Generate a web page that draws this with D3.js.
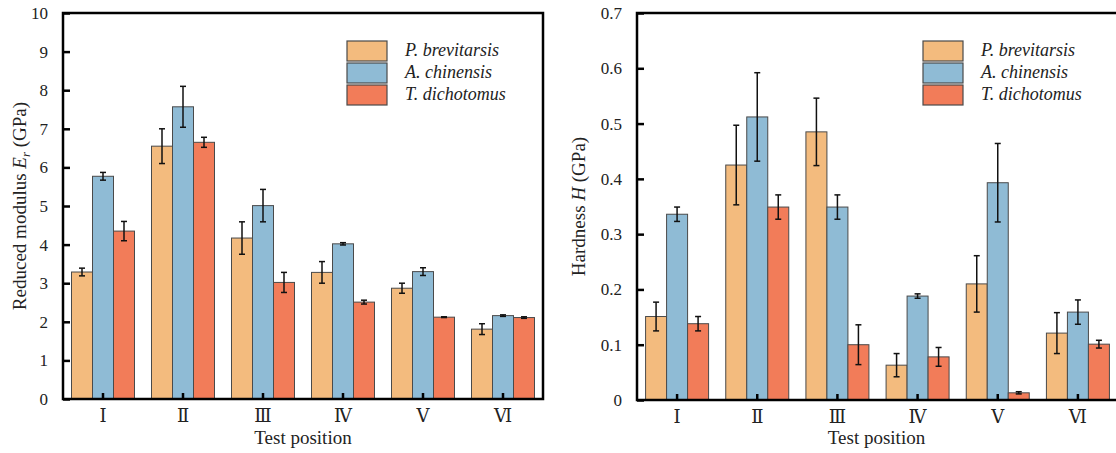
<!DOCTYPE html>
<html>
<head>
<meta charset="utf-8">
<script src="https://cdn.jsdelivr.net/npm/d3@7"></script>
<style>
  body { margin: 0; background: #fff; }
  svg { display: block; font-family: "Liberation Serif", "Times New Roman", serif; }
</style>
</head>
<body>
<svg></svg>
<script>
const width = 1116, height = 453
const positions = ["Ⅰ", "Ⅱ", "Ⅲ", "Ⅳ", "Ⅴ", "Ⅵ"]
const species = ["P. brevitarsis", "A. chinensis", "T. dichotomus"]
const colors = ["#F3BB7E", "#8FBBD5", "#F27C59"]

// reduced modulus (GPa)
const modulusMean = [
    [3.29, 6.55, 4.17, 3.28, 2.87, 1.81],
    [5.77, 7.57, 5.01, 4.02, 3.30, 2.16],
    [4.35, 6.65, 3.02, 2.51, 2.12, 2.11]
]
const modulusErr = [
    [0.10, 0.45, 0.42, 0.28, 0.13, 0.14],
    [0.10, 0.53, 0.42, 0.03, 0.10, 0.02],
    [0.25, 0.13, 0.26, 0.05, 0.01, 0.02]
]
// hardness (GPa)
const hardMean = [
    [0.151, 0.425, 0.485, 0.063, 0.210, 0.121],
    [0.336, 0.512, 0.349, 0.188, 0.393, 0.159],
    [0.138, 0.349, 0.100, 0.078, 0.013, 0.101]
]
const hardErr = [
    [0.026, 0.072, 0.061, 0.021, 0.051, 0.037],
    [0.013, 0.080, 0.022, 0.004, 0.071, 0.022],
    [0.013, 0.022, 0.036, 0.017, 0.002, 0.007]
]
const modulusTicks = [0, 1, 2, 3, 4, 5, 6, 7, 8, 9, 10]
const hardTicks = [0, 0.1, 0.2, 0.3, 0.4, 0.5, 0.6, 0.7]

var svg = d3.select("svg")
    .attr("width", width)
    .attr("height", height);

function drawPanel(opt) {
    const g = svg.append("g");
    const x = d3.scaleBand().domain(positions).range([opt.left, opt.right]);
    const y = d3.scaleLinear().domain(opt.domain).range([opt.bottom, opt.top]);
    const sub = d3.scaleBand().domain(d3.range(species.length))
        .range([0, 63]);
    const off = (x.bandwidth() - 63) / 2;

    // bars
    species.forEach((s, si) => {
        g.selectAll(null)
            .data(positions)
            .enter()
            .append("rect")
            .attr("x", d => x(d) + off + sub(si))
            .attr("width", sub.bandwidth())
            .attr("y", (d, i) => y(opt.mean[si][i]))
            .attr("height", (d, i) => y(0) - y(opt.mean[si][i]))
            .attr("fill", colors[si])
            .attr("stroke", "#4a4a4a")
            .attr("stroke-width", 1);
    });

    // error bars
    species.forEach((s, si) => {
        const eb = g.selectAll(null)
            .data(positions)
            .enter()
            .append("g")
            .attr("stroke", "#111")
            .attr("stroke-width", 1.5);
        const cx = d => x(d) + off + sub(si) + sub.bandwidth() / 2;
        eb.append("line")
            .attr("x1", cx).attr("x2", cx)
            .attr("y1", (d, i) => y(opt.mean[si][i] + opt.err[si][i]))
            .attr("y2", (d, i) => y(opt.mean[si][i] - opt.err[si][i]));
        eb.append("line")
            .attr("x1", d => cx(d) - 3).attr("x2", d => cx(d) + 3)
            .attr("y1", (d, i) => y(opt.mean[si][i] + opt.err[si][i]))
            .attr("y2", (d, i) => y(opt.mean[si][i] + opt.err[si][i]));
        eb.append("line")
            .attr("x1", d => cx(d) - 3).attr("x2", d => cx(d) + 3)
            .attr("y1", (d, i) => y(opt.mean[si][i] - opt.err[si][i]))
            .attr("y2", (d, i) => y(opt.mean[si][i] - opt.err[si][i]));
    });

    // frame
    g.append("rect")
        .attr("x", opt.left).attr("y", opt.top)
        .attr("width", opt.right - opt.left)
        .attr("height", opt.bottom - opt.top)
        .attr("fill", "none")
        .attr("stroke", "#000")
        .attr("stroke-width", 2.5);

    // y axis
    const yAxis = g.append("g")
        .attr("transform", `translate(${opt.left},0)`)
        .call(d3.axisLeft(y).tickValues(opt.ticks).tickFormat(opt.fmt)
            .tickSizeInner(-7).tickSizeOuter(0).tickPadding(15));
    yAxis.select(".domain").remove();
    yAxis.selectAll(".tick line").attr("stroke-width", 2.5);
    yAxis.selectAll(".tick text")
        .attr("font-size", 17)
        .attr("font-family", "Liberation Serif")
        .attr("fill", "#222");

    // x axis
    const xAxis = g.append("g")
        .attr("transform", `translate(0,${opt.bottom})`)
        .call(d3.axisBottom(x).tickSizeInner(-6).tickSizeOuter(0).tickPadding(10));
    xAxis.select(".domain").remove();
    xAxis.selectAll(".tick line").attr("stroke-width", 2.5);
    xAxis.selectAll(".tick text")
        .attr("font-size", 18)
        .attr("font-family", "'DejaVu Serif', 'Liberation Serif', serif")
        .attr("fill", "#222");

    // axis titles
    g.append("text")
        .attr("x", (opt.left + Math.min(opt.right, width)) / 2 + opt.xTitleShift)
        .attr("y", 444)
        .attr("text-anchor", "middle")
        .attr("font-size", 19)
        .attr("fill", "#222")
        .text("Test position");

    const yt = g.append("text")
        .attr("transform", `translate(${opt.yTitleX},${(opt.top + opt.bottom) / 2}) rotate(-90)`)
        .attr("text-anchor", "middle")
        .attr("font-size", 19)
        .attr("fill", "#222");
    yt.append("tspan").text(opt.yTitle[0] + " ");
    yt.append("tspan").attr("font-style", "italic").text(opt.yTitle[1]);
    if (opt.yTitle[2]) yt.append("tspan").attr("font-style", "italic")
        .attr("font-size", 13).attr("dy", 4).text(opt.yTitle[2]);
    yt.append("tspan").attr("dy", opt.yTitle[2] ? -4 : 0).text(" (GPa)");

    // legend
    const lg = g.append("g").attr("transform", `translate(${opt.legendX},41)`);
    species.forEach((s, si) => {
        lg.append("rect")
            .attr("x", 0).attr("y", si * 22)
            .attr("width", 40).attr("height", 20)
            .attr("fill", colors[si])
            .attr("stroke", "#4a4a4a")
            .attr("stroke-width", 1.2);
        lg.append("text")
            .attr("x", 58).attr("y", si * 22 + 15)
            .attr("font-size", 18)
            .attr("font-style", "italic")
            .attr("fill", "#222")
            .text(s);
    });
}

drawPanel({
    left: 63, right: 543, top: 13, bottom: 399,
    domain: [0, 10], ticks: modulusTicks, fmt: d3.format("d"),
    mean: modulusMean, err: modulusErr,
    yTitle: ["Reduced modulus", "E", "r"], yTitleX: 26,
    legendX: 347, xTitleShift: 0
});

drawPanel({
    left: 637, right: 1118, top: 13, bottom: 400,
    domain: [0, 0.7], ticks: hardTicks, fmt: d => d === 0 ? "0" : d3.format(".1f")(d),
    mean: hardMean, err: hardErr,
    yTitle: ["Hardness", "H"], yTitleX: 585,
    legendX: 923, xTitleShift: 0
});
</script>
</body>
</html>
